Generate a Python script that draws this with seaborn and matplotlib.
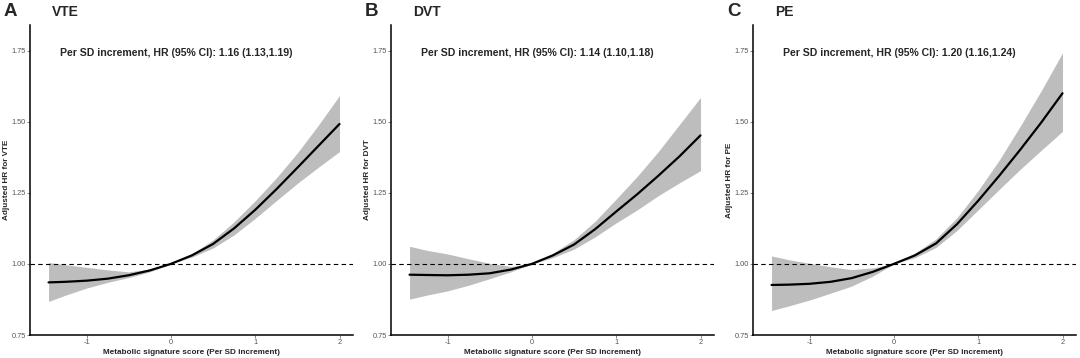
import numpy as np
import pandas as pd
import matplotlib
matplotlib.use('Agg')
import matplotlib.pyplot as plt
import seaborn as sns

# Score grid (per SD increment)
score = [-1.45, -1.25, -1.0, -0.75, -0.5, -0.25, 0.0, 0.25, 0.5, 0.75, 1.0, 1.25, 1.5, 1.75, 2.0]

# VTE
vte_hr = [0.935, 0.937, 0.941, 0.948, 0.960, 0.977, 1.0, 1.030, 1.070, 1.125, 1.190, 1.262, 1.338, 1.415, 1.492]
vte_lo = [0.868, 0.890, 0.915, 0.935, 0.952, 0.972, 1.0, 1.024, 1.056, 1.102, 1.160, 1.222, 1.283, 1.340, 1.395]
vte_hi = [1.005, 0.997, 0.988, 0.979, 0.972, 0.982, 1.0, 1.036, 1.084, 1.148, 1.222, 1.302, 1.390, 1.488, 1.592]

# DVT
dvt_hr = [0.962, 0.961, 0.960, 0.962, 0.967, 0.980, 1.0, 1.030, 1.068, 1.122, 1.184, 1.245, 1.310, 1.378, 1.452]
dvt_lo = [0.876, 0.890, 0.905, 0.925, 0.948, 0.972, 1.0, 1.022, 1.052, 1.095, 1.144, 1.190, 1.240, 1.285, 1.328]
dvt_hi = [1.062, 1.048, 1.035, 1.018, 1.002, 0.991, 1.0, 1.038, 1.085, 1.150, 1.228, 1.308, 1.395, 1.490, 1.585]

# PE
pe_hr = [0.926, 0.927, 0.930, 0.937, 0.950, 0.972, 1.0, 1.030, 1.072, 1.140, 1.222, 1.310, 1.402, 1.498, 1.600]
pe_lo = [0.836, 0.852, 0.873, 0.897, 0.922, 0.957, 1.0, 1.022, 1.058, 1.118, 1.190, 1.262, 1.333, 1.400, 1.466]
pe_hi = [1.028, 1.015, 1.002, 0.990, 0.980, 0.986, 1.0, 1.038, 1.088, 1.163, 1.258, 1.365, 1.485, 1.610, 1.742]

panels = [
    ('A', 'VTE', vte_hr, vte_lo, vte_hi, 'Per SD increment, HR (95% CI): 1.16 (1.13,1.19)'),
    ('B', 'DVT', dvt_hr, dvt_lo, dvt_hi, 'Per SD increment, HR (95% CI): 1.14 (1.10,1.18)'),
    ('C', 'PE', pe_hr, pe_lo, pe_hi, 'Per SD increment, HR (95% CI): 1.20 (1.16,1.24)'),
]

sns.set_style('ticks')
plt.rcParams['font.family'] = ['Liberation Sans', 'DejaVu Sans']
plt.rcParams['axes.unicode_minus'] = False

fig = plt.figure(figsize=(10.8, 3.58), dpi=100)
lefts = [30 / 1080, 391 / 1080, 753 / 1080]
W = 323 / 1080
B = 1 - 335 / 358
H = (335 - 25) / 358

for i, (letter, name, hr, lo, hi, note) in enumerate(panels):
    ax = fig.add_axes([lefts[i], B, W, H])
    df = pd.DataFrame({'score': score, 'hr': hr, 'lo': lo, 'hi': hi})
    ax.fill_between(df['score'], df['lo'], df['hi'], color='#bdbdbd', lw=0, zorder=1)
    sns.lineplot(data=df, x='score', y='hr', color='black', lw=1.6, ax=ax, zorder=3)
    ax.axhline(1.0, color='black', lw=0.8, ls=(0, (4, 3)), zorder=2)

    ax.set_xlim(-1.67, 2.16)
    ax.set_ylim(0.75, 1.84)
    ax.set_xticks([-1, 0, 1, 2])
    ax.set_yticks([0.75, 1.0, 1.25, 1.5, 1.75])
    ax.set_yticklabels(['0.75', '1.00', '1.25', '1.50', '1.75'])
    ax.tick_params(labelsize=5.3, labelcolor='#555555', length=2, width=0.5,
                   color='#555555', pad=1.2)
    for s in ['top', 'right']:
        ax.spines[s].set_visible(False)
    for s in ['left', 'bottom']:
        ax.spines[s].set_linewidth(1.1)
        ax.spines[s].set_color('black')

    ax.set_xlabel('Metabolic signature score (Per SD increment)', fontsize=5.9,
                  fontweight='bold', labelpad=2)
    ax.set_ylabel('Adjusted HR for ' + name, fontsize=5.9, fontweight='bold', labelpad=1)

    ax.text(-1.31, 1.743, note, fontsize=7.6, fontweight='bold', ha='left', va='center')

    fig.text(lefts[i] - 26 / 1080, 1 - 12 / 358, letter, fontsize=13.5, fontweight='bold',
             ha='left', va='center')
    fig.text(lefts[i] + 22 / 1080, 1 - 12 / 358, name, fontsize=10, fontweight='bold',
             ha='left', va='center')

fig.savefig('out.png', dpi=100)
